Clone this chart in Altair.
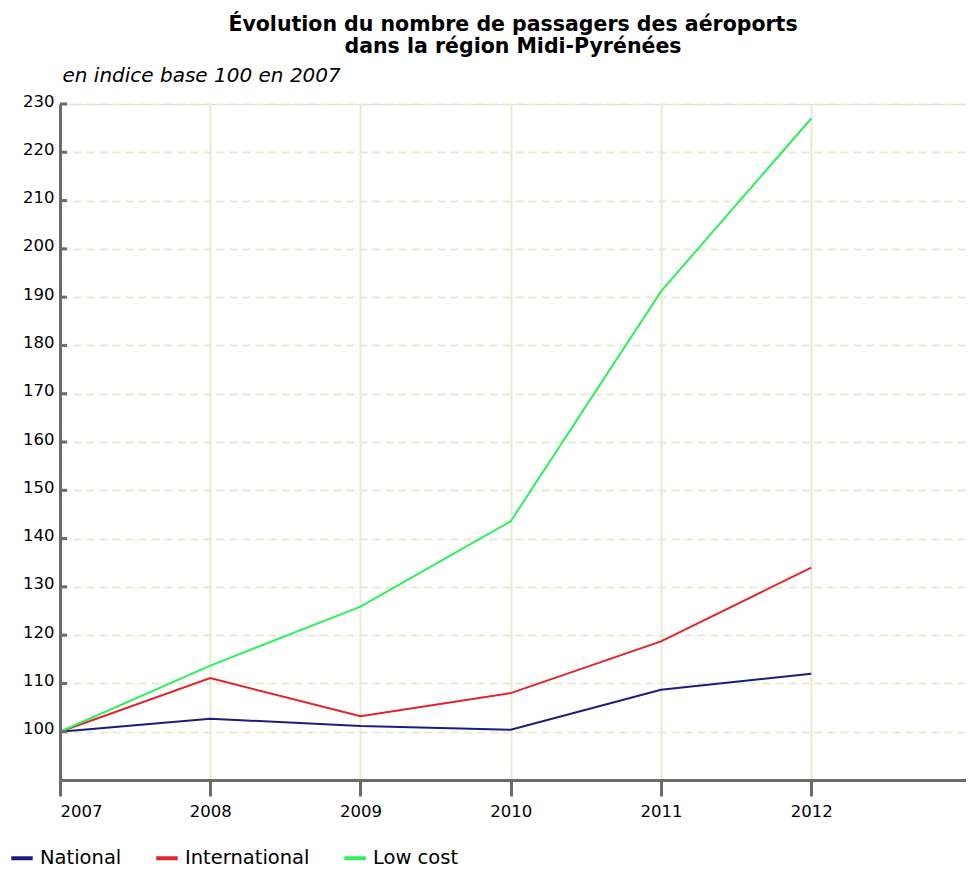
import altair as alt
import pandas as pd

years = [2007, 2008, 2009, 2010, 2011, 2012]
national = [100, 102.7, 101.2, 100.4, 108.7, 112.0]
international = [100, 111.1, 103.2, 108.0, 118.7, 134.0]
low_cost = [100, 113.7, 125.9, 143.6, 191.2, 227.0]
series_names = ["National", "International", "Low cost"]
series_colors = ["#1c1c80", "#e3222a", "#2ef05c"]
y_ticks = [100, 110, 120, 130, 140, 150, 160, 170, 180, 190, 200, 210, 220, 230]

rows = []
for name, vals in zip(series_names, [national, international, low_cost]):
    for yr, v in zip(years, vals):
        rows.append({"annee": yr, "indice": v, "serie": name})
df = pd.DataFrame(rows)
ticks_df = pd.DataFrame({"t": y_ticks})

FONT = "DejaVu Sans, Verdana, sans-serif"
AXIS_COLOR = "#6b6b6b"
GRID_COLOR = "#e9e9d4"

xscale = alt.Scale(domain=[2007, 2013.03], nice=False, zero=False)
yscale = alt.Scale(domain=[90, 230], nice=False, zero=False)

lines = alt.Chart(df).mark_line(strokeWidth=2).encode(
    x=alt.X("annee:Q", scale=xscale,
            axis=alt.Axis(values=years, format="d", title=None, labelFontSize=16.5,
                          labelFont=FONT, labelColor="#000", tickSize=16, tickWidth=3,
                          tickColor=AXIS_COLOR, domainColor=AXIS_COLOR, domainWidth=3,
                          labelPadding=7, grid=True, gridColor=GRID_COLOR, gridWidth=2)),
    y=alt.Y("indice:Q", scale=yscale,
            axis=alt.Axis(values=y_ticks, title="en indice base 100 en 2007",
                          titleAngle=0, titleAlign="left", titleX=2, titleY=-23,
                          titleBaseline="alphabetic", titleFont=FONT, titleFontSize=20,
                          titleFontStyle="italic", titleFontWeight="normal", titleColor="#000",
                          labelFontSize=16.5, labelFont=FONT, labelColor="#000",
                          labelOffset=-3, labelPadding=6, ticks=False,
                          domainColor=AXIS_COLOR, domainWidth=3,
                          grid=True, gridColor=GRID_COLOR, gridWidth=2, gridDash=[8, 5])),
    color=alt.Color("serie:N", sort=series_names,
                    scale=alt.Scale(domain=series_names, range=series_colors),
                    legend=alt.Legend(title=None, orient="none", direction="horizontal",
                                      legendX=-51, legendY=741, symbolType="stroke",
                                      symbolSize=460, symbolStrokeWidth=4,
                                      labelFontSize=19.5, labelFont=FONT, labelColor="#000",
                                      labelOffset=5, columnPadding=26)),
    order=alt.Order("annee:Q"),
)

inner_ticks = alt.Chart(ticks_df).mark_rule(color=AXIS_COLOR, strokeWidth=3).encode(
    y=alt.Y("t:Q", scale=yscale),
    x=alt.value(0),
    x2=alt.value(7),
)

chart = alt.layer(lines, inner_ticks).properties(
    width=906,
    height=676,
    autosize=alt.AutoSizeParams(type="none"),
    padding={"left": 52, "top": 96, "right": 0, "bottom": 92},
    title=alt.TitleParams(
        text=["Évolution du nombre de passagers des aéroports", "dans la région Midi-Pyrénées"],
        font=FONT, fontSize=20.5, fontWeight="bold", color="#000",
        anchor="middle", lineHeight=22, offset=8,
    ),
).configure_view(stroke=None).configure(background="white")

chart.save("out.html", embed_options={"renderer": "svg", "actions": False})
